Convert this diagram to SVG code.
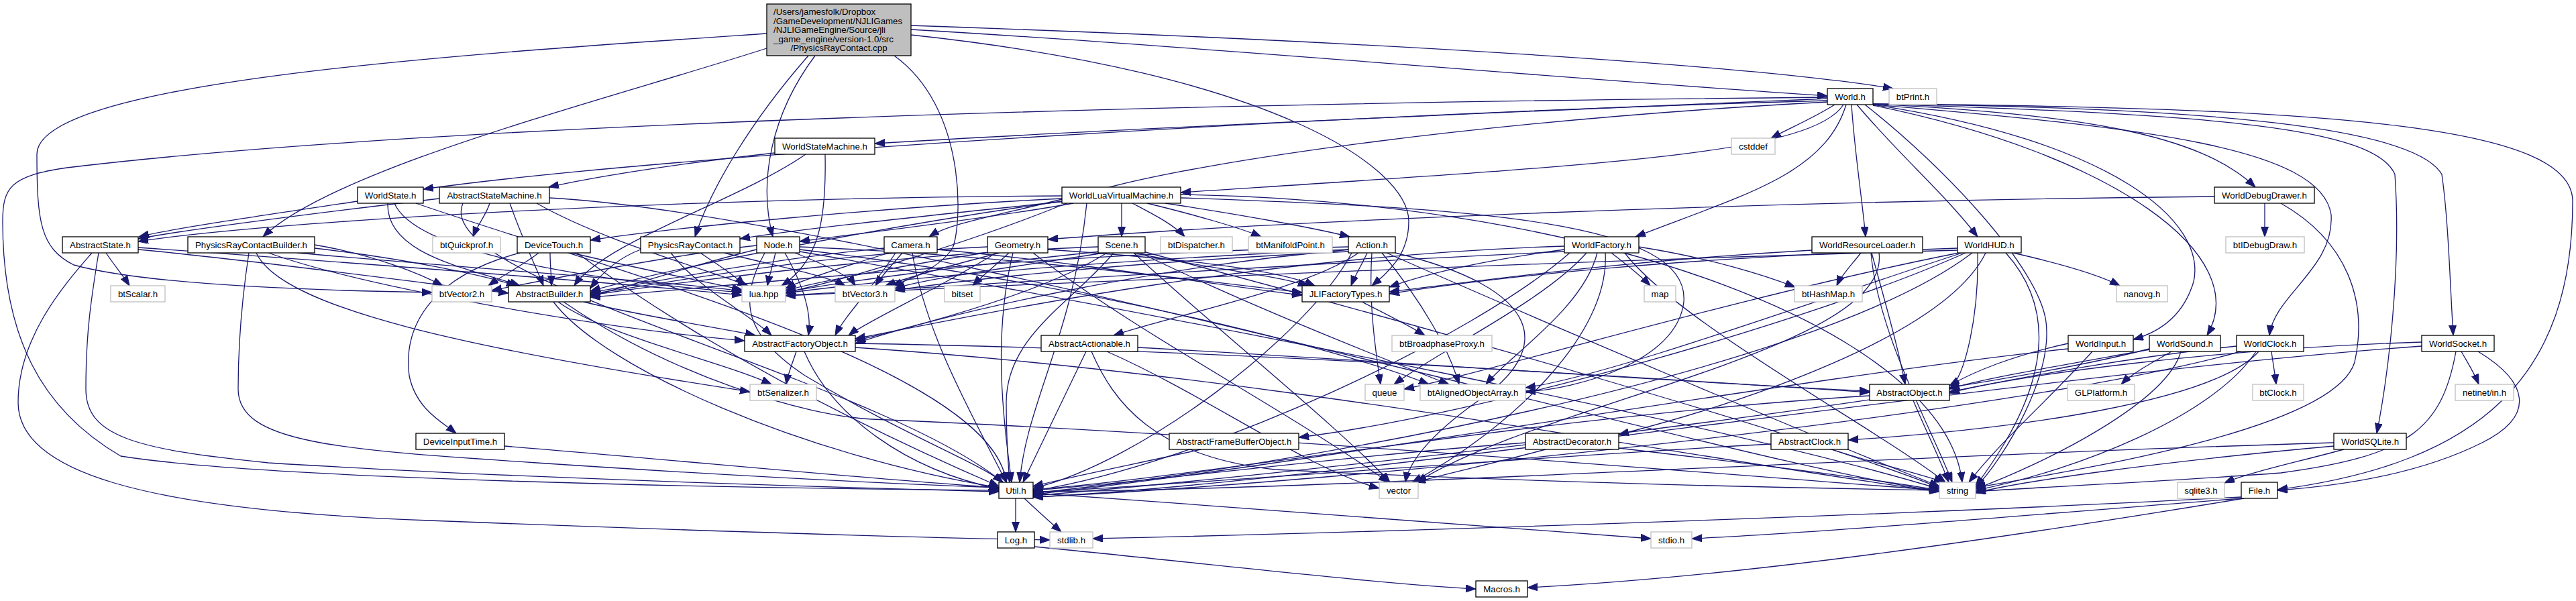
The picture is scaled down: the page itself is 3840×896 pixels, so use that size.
<svg xmlns="http://www.w3.org/2000/svg" width="3840" height="896" viewBox="0 0 3840 896">
<style>
.e{fill:none;stroke:#191970;stroke-width:1.3;marker-end:url(#a)}
.n rect{fill:#fff;stroke:#000;stroke-width:1.3}
.g rect{fill:#fff;stroke:#bfbfbf;stroke-width:1.3}
text{font-family:"Liberation Sans",Arial,Helvetica,sans-serif;font-size:13.3px;text-anchor:middle;fill:#000}
</style>
<defs>
<marker id="a" markerUnits="userSpaceOnUse" markerWidth="16" markerHeight="12" viewBox="0 0 16 12" refX="15" refY="5.5" orient="auto"><path d="M0,0 L15,5.5 L0,11 z" fill="#191970" stroke="#191970" stroke-width="1"/></marker>
</defs>
<rect width="3840" height="896" fill="#fff"/>
<g id="edges">
<path class="e" d="M1358,44 C1800,70 2300,115 2724,143"/>
<path class="e" d="M1358,38 C2000,60 2600,95 2822,132"/>
<path class="e" d="M1143,72 C900,150 500,250 392,353"/>
<path class="e" d="M1205,83 C1120,180 1060,280 1036,353"/>
<path class="e" d="M1215,83 C1150,170 1130,270 1152,353"/>
<path class="e" d="M1358,52 C1900,110 2100,250 2100,330 C2100,380 2070,405 2045,426"/>
<path class="e" d="M1333,83 C1440,160 1435,330 1420,370 C1400,400 1360,415 1330,426"/>
<path class="e" d="M1143,50 C700,80 55,120 55,230 C55,330 60,370 110,395 C200,420 400,432 644,436"/>
<path class="e" d="M2724,147 C2300,165 1700,190 1304,214"/>
<path class="e" d="M2724,150 C2000,170 1000,230 631,282"/>
<path class="e" d="M2724,145 C1600,155 600,190 100,250 C15,262 4,280 4,330 C4,500 60,610 180,680 C400,715 1100,728 1489,731"/>
<path class="e" d="M2724,152 C2200,180 1800,240 1650,280 C1500,320 1420,330 1385,353"/>
<path class="e" d="M2748,156 C2700,230 2400,245 1760,287"/>
<path class="e" d="M2735,156 C2705,175 2670,190 2640,206"/>
<path class="e" d="M2752,156 C2720,260 2600,290 2438,353"/>
<path class="e" d="M2760,156 C2765,230 2775,290 2781,353"/>
<path class="e" d="M2768,156 C2830,230 2900,290 2948,353"/>
<path class="e" d="M2792,155 C3100,170 3280,200 3362,279"/>
<path class="e" d="M2792,156 C3150,210 3290,330 3270,420 C3255,470 3220,495 3180,506"/>
<path class="e" d="M2792,157 C3150,230 3360,380 3290,500"/>
<path class="e" d="M2792,156 C3200,190 3460,220 3475,320 C3480,400 3390,440 3383,500"/>
<path class="e" d="M2792,155 C3300,160 3600,190 3640,260 C3650,330 3652,420 3657,500"/>
<path class="e" d="M2792,155 C3300,170 3540,190 3570,260 C3580,400 3560,560 3543,646"/>
<path class="e" d="M2792,155 C3500,160 3835,190 3835,300 C3835,560 3700,690 3395,730"/>
<path class="e" d="M2780,156 C2900,250 3040,400 3050,480 C3060,560 2990,680 2945,727"/>
<path class="e" d="M1155,228 C1000,245 880,265 818,279"/>
<path class="e" d="M1201,230 C1100,300 900,360 856,426"/>
<path class="e" d="M1230,230 C1232,330 1220,390 1165,426"/>
<path class="e" d="M533,300 C400,320 260,340 207,353"/>
<path class="e" d="M578,303 C575,380 700,400 775,426"/>
<path class="e" d="M588,303 C620,380 900,420 1106,436"/>
<path class="e" d="M620,303 C900,400 1480,550 1500,719"/>
<path class="e" d="M655,296 C450,320 260,345 206,356"/>
<path class="e" d="M730,303 C725,320 712,335 705,353"/>
<path class="e" d="M760,303 C780,360 800,400 810,426"/>
<path class="e" d="M800,303 C900,360 1050,400 1115,426"/>
<path class="e" d="M690,303 C640,420 1300,560 1495,719"/>
<path class="e" d="M819,295 C1300,320 2700,720 2891,731"/>
<path class="e" d="M1583,292 C1000,295 400,330 206,360"/>
<path class="e" d="M1583,296 C1300,310 1000,340 880,358"/>
<path class="e" d="M1590,300 C1400,320 1200,340 1103,356"/>
<path class="e" d="M1600,303 C1450,330 1260,350 1192,360"/>
<path class="e" d="M1672,303 L1672,353"/>
<path class="e" d="M1688,303 C1720,320 1750,335 1766,353"/>
<path class="e" d="M1710,303 C1780,320 1850,340 1880,353"/>
<path class="e" d="M1737,303 C1850,320 1960,340 2012,353"/>
<path class="e" d="M1590,303 C1450,360 1250,420 1171,436"/>
<path class="e" d="M1583,300 C1300,340 1000,400 880,434"/>
<path class="e" d="M1760,295 C2200,310 2520,330 2510,450 C2500,540 2350,580 2274,584"/>
<path class="e" d="M1620,303 C1600,500 1530,600 1520,719"/>
<path class="e" d="M1760,290 C2400,300 2900,500 2925,719"/>
<path class="e" d="M3376,303 L3376,353"/>
<path class="e" d="M3301,293 C2600,300 1900,330 1562,357"/>
<path class="e" d="M3400,303 C3500,360 3530,450 3510,540 C3480,640 3100,700 2945,727"/>
<path class="e" d="M158,377 C170,395 183,410 193,426"/>
<path class="e" d="M137,377 C100,420 27,500 27,600 C27,700 200,760 640,776 C1000,790 1300,800 1565,805"/>
<path class="e" d="M147,377 C135,450 128,500 128,580 C128,650 200,670 400,690 C800,715 1300,728 1489,733"/>
<path class="e" d="M206,372 C400,390 650,425 758,437"/>
<path class="e" d="M206,369 C500,390 900,420 1106,440"/>
<path class="e" d="M469,370 C600,385 720,410 770,426"/>
<path class="e" d="M400,377 C550,430 900,490 1110,508"/>
<path class="e" d="M382,377 C420,460 700,520 1118,584"/>
<path class="e" d="M371,377 C360,450 355,520 355,580 C355,660 500,670 800,690 C1100,710 1350,722 1489,727"/>
<path class="e" d="M469,365 C560,380 630,410 660,426"/>
<path class="e" d="M443,377 C700,400 1000,420 1106,434"/>
<path class="e" d="M803,377 C780,395 750,410 728,426"/>
<path class="e" d="M820,377 C820,395 822,410 822,426"/>
<path class="e" d="M775,377 C650,410 600,480 610,560 C620,610 660,630 680,646"/>
<path class="e" d="M852,377 C950,400 1050,420 1106,432"/>
<path class="e" d="M860,377 C1000,480 1200,600 1489,725"/>
<path class="e" d="M955,372 C920,385 895,410 880,430"/>
<path class="e" d="M1044,377 C1070,395 1095,410 1110,426"/>
<path class="e" d="M1000,377 C1040,430 1120,470 1150,500"/>
<path class="e" d="M1080,377 C1150,395 1230,410 1260,426"/>
<path class="e" d="M1156,377 C1152,395 1147,410 1144,426"/>
<path class="e" d="M1128,372 C1050,390 930,430 880,441"/>
<path class="e" d="M1170,377 C1200,430 1210,470 1205,500"/>
<path class="e" d="M1185,377 C1230,395 1265,410 1275,426"/>
<path class="e" d="M1192,368 C1500,380 1800,420 1941,436"/>
<path class="e" d="M1192,372 C1600,420 2000,520 2130,573"/>
<path class="e" d="M1140,377 C1100,450 1110,500 1200,560 C1350,650 1460,690 1495,719"/>
<path class="e" d="M1192,375 C1800,480 2600,640 2891,729"/>
<path class="e" d="M1128,366 C1000,380 800,420 733,433"/>
<path class="e" d="M1345,377 C1330,395 1315,410 1305,426"/>
<path class="e" d="M1318,370 C1150,385 950,425 880,436"/>
<path class="e" d="M1335,377 C1300,430 1260,470 1245,500"/>
<path class="e" d="M1325,377 C1250,400 1190,420 1171,430"/>
<path class="e" d="M1397,372 C1600,390 1850,430 1941,440"/>
<path class="e" d="M1360,377 C1380,500 1450,620 1500,719"/>
<path class="e" d="M1504,377 C1485,395 1465,410 1450,426"/>
<path class="e" d="M1490,377 C1420,395 1350,415 1320,426"/>
<path class="e" d="M1472,368 C1200,380 950,430 880,438"/>
<path class="e" d="M1485,377 C1400,430 1290,480 1265,500"/>
<path class="e" d="M1480,375 C1350,395 1220,420 1171,433"/>
<path class="e" d="M1562,372 C1750,385 1900,400 1960,426"/>
<path class="e" d="M1510,377 C1480,500 1495,620 1508,719"/>
<path class="e" d="M1540,377 C1700,500 1900,600 2070,719"/>
<path class="e" d="M1637,368 C1300,380 950,430 880,440"/>
<path class="e" d="M1650,377 C1550,440 1350,490 1275,508"/>
<path class="e" d="M1640,375 C1450,395 1250,420 1171,436"/>
<path class="e" d="M1645,377 C1500,400 1380,415 1334,430"/>
<path class="e" d="M1690,377 C1800,400 1900,410 1950,426"/>
<path class="e" d="M1660,377 C1600,450 1500,500 1500,600 C1500,660 1503,690 1505,719"/>
<path class="e" d="M1690,377 C1800,480 2000,640 2072,719"/>
<path class="e" d="M1704,375 C2100,480 2700,650 2891,727"/>
<path class="e" d="M1700,377 C1850,450 2050,530 2160,573"/>
<path class="e" d="M2038,377 C2030,395 2020,410 2014,426"/>
<path class="e" d="M2010,368 C1500,380 1000,435 880,443"/>
<path class="e" d="M2012,372 C1700,400 1400,470 1275,512"/>
<path class="e" d="M2025,377 C1950,430 1750,470 1660,500"/>
<path class="e" d="M2010,372 C1600,390 1300,420 1171,437"/>
<path class="e" d="M2015,377 C1950,500 1700,690 1540,728"/>
<path class="e" d="M2067,377 C2300,480 2700,650 2891,725"/>
<path class="e" d="M2060,377 C2120,450 2160,520 2175,573"/>
<path class="e" d="M2045,377 C2040,450 2050,520 2058,573"/>
<path class="e" d="M2080,377 C2300,430 2320,520 2200,600 C2130,650 2100,690 2095,719"/>
<path class="e" d="M2010,375 C1700,390 1450,415 1334,433"/>
<path class="e" d="M1619,524 L1525,719"/>
<path class="e" d="M1627,524 C1660,600 1720,680 1900,700 C2300,720 2700,728 2891,731"/>
<path class="e" d="M1650,524 C1800,590 1950,700 2056,728"/>
<path class="e" d="M1696,518 C2100,540 2500,570 2787,583"/>
<path class="e" d="M1187,524 C1182,540 1175,555 1172,573"/>
<path class="e" d="M1199,524 C1240,620 1350,700 1489,729"/>
<path class="e" d="M1275,512 C1800,520 2400,560 2787,585"/>
<path class="e" d="M1275,518 C1900,560 2500,680 2891,733"/>
<path class="e" d="M2030,450 C2070,470 2100,485 2124,500"/>
<path class="e" d="M2332,372 C2200,390 2120,410 2071,428"/>
<path class="e" d="M2402,377 C2425,395 2445,410 2460,426"/>
<path class="e" d="M2365,377 C2300,450 2150,520 2078,573"/>
<path class="e" d="M2381,377 C2360,460 2250,530 2215,573"/>
<path class="e" d="M2393,377 C2400,500 2250,640 2105,719"/>
<path class="e" d="M2422,377 C2500,480 2800,640 2900,719"/>
<path class="e" d="M2340,377 C2200,500 1800,690 1540,732"/>
<path class="e" d="M2332,367 C1900,380 1500,460 1275,505"/>
<path class="e" d="M2443,368 C2550,385 2630,410 2676,428"/>
<path class="e" d="M2332,375 C1800,400 1400,430 1171,440"/>
<path class="e" d="M2701,373 C2400,390 2200,420 2071,435"/>
<path class="e" d="M2774,377 C2760,395 2745,410 2738,426"/>
<path class="e" d="M2790,377 C2810,450 2830,520 2840,573"/>
<path class="e" d="M2789,377 C2800,500 2880,640 2910,719"/>
<path class="e" d="M2801,377 C2820,520 2300,600 2112,719"/>
<path class="e" d="M2918,373 C2300,390 1500,425 1171,441"/>
<path class="e" d="M2918,370 C2500,385 2250,410 2071,438"/>
<path class="e" d="M3001,377 C3080,395 3130,410 3160,426"/>
<path class="e" d="M2948,377 C2950,470 2930,560 2906,580"/>
<path class="e" d="M2930,377 C2700,480 2200,620 1936,652"/>
<path class="e" d="M2960,377 C2900,500 2600,600 2413,648"/>
<path class="e" d="M2940,377 C2700,560 1900,700 1540,735"/>
<path class="e" d="M2990,377 C3100,500 3000,650 2945,725"/>
<path class="e" d="M2925,377 C2700,450 2400,560 2274,578"/>
<path class="e" d="M2920,377 C2600,440 2200,560 2093,580"/>
<path class="e" d="M3083,512 C3000,530 2940,555 2906,575"/>
<path class="e" d="M3119,524 C3050,600 2980,660 2935,719"/>
<path class="e" d="M3083,520 C2700,560 1900,700 1540,737"/>
<path class="e" d="M3237,524 C3210,540 3180,555 3162,573"/>
<path class="e" d="M3210,520 C3100,540 2950,565 2906,580"/>
<path class="e" d="M3251,524 C3230,600 3050,690 2945,729"/>
<path class="e" d="M3204,520 C2900,600 1900,710 1540,739"/>
<path class="e" d="M3386,524 C3388,540 3391,555 3393,573"/>
<path class="e" d="M3367,524 C3300,600 3000,640 2755,656"/>
<path class="e" d="M3334,516 C3150,535 2980,570 2906,584"/>
<path class="e" d="M3363,524 C3300,620 3100,700 2945,731"/>
<path class="e" d="M3340,524 C3000,620 2000,720 1540,741"/>
<path class="e" d="M3669,524 C3678,540 3688,555 3695,573"/>
<path class="e" d="M3694,524 C3770,570 3780,620 3700,660 C3600,710 3480,725 3395,731"/>
<path class="e" d="M3610,510 C3300,520 3000,560 2906,586"/>
<path class="e" d="M3661,524 C3640,640 3590,680 3400,705 C3200,720 3000,728 2945,733"/>
<path class="e" d="M3610,516 C3000,560 2000,720 1540,741"/>
<path class="e" d="M3494,670 C3420,690 3350,705 3316,720"/>
<path class="e" d="M3479,660 C2800,680 2000,730 1540,733"/>
<path class="e" d="M3479,665 C3200,690 3000,720 2945,735"/>
<path class="e" d="M3341,741 C2800,770 2000,795 1629,803"/>
<path class="e" d="M3341,743 C3000,770 2700,795 2522,803"/>
<path class="e" d="M3345,743 C3000,800 2600,860 2277,876"/>
<path class="e" d="M1514,743 L1514,793"/>
<path class="e" d="M1527,743 C1545,760 1565,778 1582,793"/>
<path class="e" d="M1540,735 C1900,760 2300,790 2461,803"/>
<path class="e" d="M1542,815 C1800,840 2050,870 2200,878"/>
<path class="e" d="M2852,597 C2870,640 2890,680 2905,719"/>
<path class="e" d="M2787,590 C2300,620 1800,710 1540,730"/>
<path class="e" d="M2304,670 C2230,690 2160,705 2110,719"/>
<path class="e" d="M2274,660 C2000,680 1700,720 1540,731"/>
<path class="e" d="M2413,668 C2600,690 2800,715 2891,731"/>
<path class="e" d="M2731,670 C2790,690 2860,705 2898,719"/>
<path class="e" d="M2640,662 C2300,680 1800,720 1540,734"/>
<path class="e" d="M1790,670 C1700,690 1600,710 1540,725"/>
<path class="e" d="M752,665 C1000,685 1300,715 1489,727"/>
<path class="e" d="M832,450 C900,500 1080,540 1150,573"/>
<path class="e" d="M825,450 C900,550 1200,680 1489,727"/>
<path class="e" d="M870,450 C950,470 1080,490 1126,500"/>
<path class="e" d="M840,450 C1000,560 1200,620 1300,625 C1900,650 2600,710 2891,731"/>
</g>
<g id="node-root"><rect x="1143" y="6" width="215" height="77" fill="#bfbfbf" stroke="#000" stroke-width="1.3"/>
<text x="1153" y="21.7" style="text-anchor:start">/Users/jamesfolk/Dropbox</text>
<text x="1153" y="35.7" style="text-anchor:start">/GameDevelopment/NJLIGames</text>
<text x="1153" y="49.3" style="text-anchor:start">/NJLIGameEngine/Source/jli</text>
<text x="1153" y="62.7" style="text-anchor:start">_game_engine/version-1.0/src</text>
<text x="1250.5" y="76">/PhysicsRayContact.cpp</text></g>
<g id="node-World" class="n"><rect x="2724" y="132" width="68" height="24"/><text x="2758" y="149">World.h</text></g>
<g id="node-btPrint" class="g"><rect x="2816" y="132" width="71" height="24"/><text x="2851.5" y="149">btPrint.h</text></g>
<g id="node-cstddef" class="g"><rect x="2581" y="206" width="65" height="24"/><text x="2613.5" y="223">cstddef</text></g>
<g id="node-WorldStateMachine" class="n"><rect x="1155" y="206" width="149" height="24"/><text x="1229.5" y="223">WorldStateMachine.h</text></g>
<g id="node-WorldState" class="n"><rect x="533" y="279" width="98" height="24"/><text x="582" y="296">WorldState.h</text></g>
<g id="node-AbstractStateMachine" class="n"><rect x="655" y="279" width="164" height="24"/><text x="737" y="296">AbstractStateMachine.h</text></g>
<g id="node-WorldLuaVirtualMachine" class="n"><rect x="1583" y="279" width="177" height="24"/><text x="1671.5" y="296">WorldLuaVirtualMachine.h</text></g>
<g id="node-WorldDebugDrawer" class="n"><rect x="3301" y="279" width="149" height="24"/><text x="3375.5" y="296">WorldDebugDrawer.h</text></g>
<g id="node-AbstractState" class="n"><rect x="93" y="353" width="113" height="24"/><text x="149.5" y="370">AbstractState.h</text></g>
<g id="node-PhysicsRayContactBuilder" class="n"><rect x="280" y="353" width="189" height="24"/><text x="374.5" y="370">PhysicsRayContactBuilder.h</text></g>
<g id="node-btQuickprof" class="g"><rect x="645" y="353" width="101" height="24"/><text x="695.5" y="370">btQuickprof.h</text></g>
<g id="node-DeviceTouch" class="n"><rect x="771" y="353" width="109" height="24"/><text x="825.5" y="370">DeviceTouch.h</text></g>
<g id="node-PhysicsRayContact" class="n"><rect x="955" y="353" width="148" height="24"/><text x="1029" y="370">PhysicsRayContact.h</text></g>
<g id="node-Node" class="n"><rect x="1128" y="353" width="64" height="24"/><text x="1160" y="370">Node.h</text></g>
<g id="node-Camera" class="n"><rect x="1318" y="353" width="79" height="24"/><text x="1357.5" y="370">Camera.h</text></g>
<g id="node-Geometry" class="n"><rect x="1472" y="353" width="90" height="24"/><text x="1517" y="370">Geometry.h</text></g>
<g id="node-Scene" class="n"><rect x="1637" y="353" width="70" height="24"/><text x="1672" y="370">Scene.h</text></g>
<g id="node-btDispatcher" class="g"><rect x="1730" y="353" width="107" height="24"/><text x="1783.5" y="370">btDispatcher.h</text></g>
<g id="node-btManifoldPoint" class="g"><rect x="1861" y="353" width="125" height="24"/><text x="1923.5" y="370">btManifoldPoint.h</text></g>
<g id="node-Action" class="n"><rect x="2010" y="353" width="70" height="24"/><text x="2045" y="370">Action.h</text></g>
<g id="node-WorldFactory" class="n"><rect x="2332" y="353" width="111" height="24"/><text x="2387.5" y="370">WorldFactory.h</text></g>
<g id="node-WorldResourceLoader" class="n"><rect x="2701" y="353" width="165" height="24"/><text x="2783.5" y="370">WorldResourceLoader.h</text></g>
<g id="node-WorldHUD" class="n"><rect x="2918" y="353" width="95" height="24"/><text x="2965.5" y="370">WorldHUD.h</text></g>
<g id="node-btIDebugDraw" class="g"><rect x="3318" y="353" width="117" height="24"/><text x="3376.5" y="370">btIDebugDraw.h</text></g>
<g id="node-btScalar" class="g"><rect x="165" y="426" width="81" height="24"/><text x="205.5" y="443">btScalar.h</text></g>
<g id="node-btVector2" class="g"><rect x="644" y="426" width="89" height="24"/><text x="688.5" y="443">btVector2.h</text></g>
<g id="node-AbstractBuilder" class="n"><rect x="758" y="426" width="122" height="24"/><text x="819" y="443">AbstractBuilder.h</text></g>
<g id="node-lua" class="g"><rect x="1106" y="426" width="65" height="24"/><text x="1138.5" y="443">lua.hpp</text></g>
<g id="node-btVector3" class="g"><rect x="1245" y="426" width="89" height="24"/><text x="1289.5" y="443">btVector3.h</text></g>
<g id="node-bitset" class="g"><rect x="1408" y="426" width="53" height="24"/><text x="1434.5" y="443">bitset</text></g>
<g id="node-JLIFactoryTypes" class="n"><rect x="1941" y="426" width="130" height="24"/><text x="2006" y="443">JLIFactoryTypes.h</text></g>
<g id="node-map" class="g"><rect x="2451" y="426" width="47" height="24"/><text x="2474.5" y="443">map</text></g>
<g id="node-btHashMap" class="g"><rect x="2675" y="426" width="101" height="24"/><text x="2725.5" y="443">btHashMap.h</text></g>
<g id="node-nanovg" class="g"><rect x="3155" y="426" width="76" height="24"/><text x="3193" y="443">nanovg.h</text></g>
<g id="node-AbstractFactoryObject" class="n"><rect x="1110" y="500" width="165" height="24"/><text x="1192.5" y="517">AbstractFactoryObject.h</text></g>
<g id="node-AbstractActionable" class="n"><rect x="1552" y="500" width="144" height="24"/><text x="1624" y="517">AbstractActionable.h</text></g>
<g id="node-btBroadphaseProxy" class="g"><rect x="2075" y="500" width="149" height="24"/><text x="2149.5" y="517">btBroadphaseProxy.h</text></g>
<g id="node-WorldInput" class="n"><rect x="3083" y="500" width="97" height="24"/><text x="3131.5" y="517">WorldInput.h</text></g>
<g id="node-WorldSound" class="n"><rect x="3204" y="500" width="106" height="24"/><text x="3257" y="517">WorldSound.h</text></g>
<g id="node-WorldClock" class="n"><rect x="3334" y="500" width="100" height="24"/><text x="3384" y="517">WorldClock.h</text></g>
<g id="node-WorldSocket" class="n"><rect x="3610" y="500" width="108" height="24"/><text x="3664" y="517">WorldSocket.h</text></g>
<g id="node-btSerializer" class="g"><rect x="1118" y="573" width="99" height="24"/><text x="1167.5" y="590">btSerializer.h</text></g>
<g id="node-queue" class="g"><rect x="2035" y="573" width="58" height="24"/><text x="2064" y="590">queue</text></g>
<g id="node-btAlignedObjectArray" class="g"><rect x="2117" y="573" width="157" height="24"/><text x="2195.5" y="590">btAlignedObjectArray.h</text></g>
<g id="node-AbstractObject" class="n"><rect x="2787" y="573" width="119" height="24"/><text x="2846.5" y="590">AbstractObject.h</text></g>
<g id="node-GLPlatform" class="g"><rect x="3082" y="573" width="100" height="24"/><text x="3132" y="590">GLPlatform.h</text></g>
<g id="node-btClock" class="g"><rect x="3358" y="573" width="76" height="24"/><text x="3396" y="590">btClock.h</text></g>
<g id="node-netinet" class="g"><rect x="3660" y="573" width="87" height="24"/><text x="3703.5" y="590">netinet/in.h</text></g>
<g id="node-DeviceInputTime" class="n"><rect x="620" y="646" width="132" height="24"/><text x="686" y="663">DeviceInputTime.h</text></g>
<g id="node-AbstractFrameBufferObject" class="n"><rect x="1743" y="646" width="193" height="24"/><text x="1839.5" y="663">AbstractFrameBufferObject.h</text></g>
<g id="node-AbstractDecorator" class="n"><rect x="2274" y="646" width="139" height="24"/><text x="2343.5" y="663">AbstractDecorator.h</text></g>
<g id="node-AbstractClock" class="n"><rect x="2640" y="646" width="115" height="24"/><text x="2697.5" y="663">AbstractClock.h</text></g>
<g id="node-WorldSQLite" class="n"><rect x="3479" y="646" width="108" height="24"/><text x="3533" y="663">WorldSQLite.h</text></g>
<g id="node-Util" class="n"><rect x="1489" y="719" width="51" height="24"/><text x="1514.5" y="736">Util.h</text></g>
<g id="node-vector" class="g"><rect x="2056" y="719" width="58" height="24"/><text x="2085" y="736">vector</text></g>
<g id="node-string" class="g"><rect x="2891" y="719" width="54" height="24"/><text x="2918" y="736">string</text></g>
<g id="node-sqlite3" class="g"><rect x="3246" y="719" width="70" height="24"/><text x="3281" y="736">sqlite3.h</text></g>
<g id="node-File" class="n"><rect x="3341" y="719" width="54" height="24"/><text x="3368" y="736">File.h</text></g>
<g id="node-Log" class="n"><rect x="1487" y="793" width="55" height="24"/><text x="1514.5" y="810">Log.h</text></g>
<g id="node-stdlib" class="g"><rect x="1565" y="793" width="64" height="24"/><text x="1597" y="810">stdlib.h</text></g>
<g id="node-stdio" class="g"><rect x="2461" y="793" width="61" height="24"/><text x="2491.5" y="810">stdio.h</text></g>
<g id="node-Macros" class="n"><rect x="2200" y="866" width="77" height="24"/><text x="2238.5" y="883">Macros.h</text></g>
</svg>
